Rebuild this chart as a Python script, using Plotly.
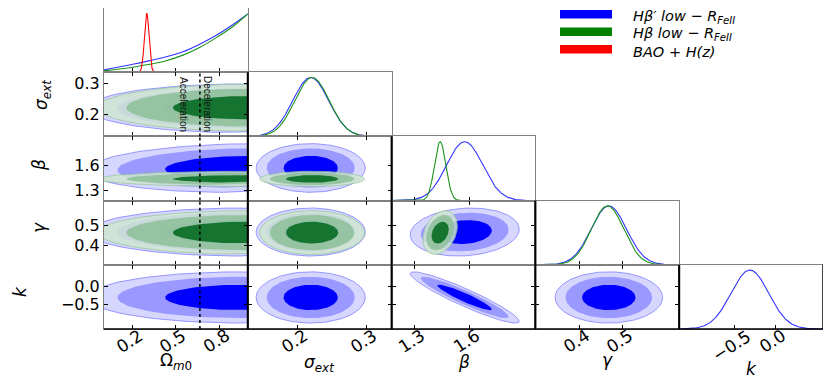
import numpy as np
import plotly.graph_objects as go
from plotly.subplots import make_subplots

# parameters of the triangle plot (Omega_m0, sigma_ext, beta, gamma, k)
axis_titles = ["Ω<sub><i>m</i>0</sub>", "<i>σ<sub>ext</sub></i>", "<i>β</i>", "<i>γ</i>", "<i>k</i>"]
axis_lo = [0.0, 0.128, 1.175, 0.298, -1.17]
axis_hi = [1.0, 0.336, 1.96, 0.631, 0.58]
tick_vals = [[0.2, 0.5, 0.8], [0.2, 0.3], [1.3, 1.6], [0.4, 0.5], [-0.5, 0.0]]
tick_text = [["0.2", "0.5", "0.8"], ["0.2", "0.3"], ["1.3", "1.6"], ["0.4", "0.5"], ["−0.5", "0.0"]]

# H-beta' low - R_FeII  (blue)
hbp_mean = [0.958, 0.219, 1.574, 0.468, -0.31]
hbp_sd = [0.353, 0.026, 0.098, 0.041, 0.23]
hbp_corr = [
    [1.0, 0.0, 0.1, 0.0, 0.0],
    [0.0, 1.0, 0.0, 0.0, 0.0],
    [0.1, 0.0, 1.0, 0.12, -0.93],
    [0.0, 0.0, 0.12, 1.0, 0.0],
    [0.0, 0.0, -0.93, 0.0, 1.0],
]
# H-beta low - R_FeII  (green), no k
hb_mean = [1.0, 0.221, 1.44, 0.465]
hb_sd = [0.345, 0.025, 0.031, 0.0375]
hb_corr = [
    [1.0, 0.0, 0.0, 0.0],
    [0.0, 1.0, 0.0, 0.0],
    [0.0, 0.0, 1.0, 0.3],
    [0.0, 0.0, 0.3, 1.0],
]
# BAO + H(z) (red), Omega_m0 only
bao_mean = 0.297
bao_sd = 0.016

# marginal of Omega_m0 (not gaussian)
omega_grid = [0.0, 0.2, 0.317, 0.433, 0.549, 0.665, 0.781, 0.897, 1.0]
hbp_omega_pdf = [0.039, 0.134, 0.196, 0.263, 0.347, 0.475, 0.626, 0.81, 0.99]
hb_omega_pdf = [0.022, 0.084, 0.134, 0.196, 0.29, 0.42, 0.587, 0.777, 0.99]

contour_levels = [0.68, 0.95, 0.99]
omega_transition = 0.667

blue_fills = ["#d6d6ff", "#9999ff", "#0000ff"]
green_fills = ["#cfe5d3", "#8dbf98", "#00661d"]

N = 5
specs = [[{} if c <= r else None for c in range(N)] for r in range(N)]
fig = make_subplots(rows=N, cols=N, specs=specs, horizontal_spacing=0, vertical_spacing=0)


def refs(r, c):
    sp = fig.get_subplot(r + 1, c + 1)
    return sp.xaxis, sp.yaxis, sp.xaxis.plotly_name.replace("axis", ""), sp.yaxis.plotly_name.replace("axis", "")


def ellipse(mx, my, sx, sy, rho, rad):
    t = np.linspace(0, 2 * np.pi, 120)
    u, v = np.cos(t), np.sin(t)
    x = mx + rad * sx * u
    y = my + rad * sy * (rho * u + np.sqrt(1 - rho ** 2) * v)
    return x, y


def add_contours(r, c, mean, sd, corr, fills, line_col, opacity):
    for k, p in enumerate(reversed(contour_levels)):
        rad = np.sqrt(-2 * np.log(1 - p))
        x, y = ellipse(mean[c], mean[r], sd[c], sd[r], corr[r][c], rad)
        fig.add_trace(go.Scatter(
            x=x, y=y, mode="lines", fill="toself", fillcolor=fills[k],
            opacity=opacity,
            line=dict(color=line_col if k == 0 else fills[k], width=0.8 if k == 0 else 0),
            hoverinfo="skip", showlegend=False), row=r + 1, col=c + 1)


for r in range(N):
    for c in range(r + 1):
        if r == c:
            if c == 0:
                fig.add_trace(go.Scatter(x=omega_grid, y=hbp_omega_pdf, mode="lines",
                                         line=dict(color="#3333ff", width=1.1, shape="spline"),
                                         showlegend=False), row=1, col=1)
                fig.add_trace(go.Scatter(x=omega_grid, y=hb_omega_pdf, mode="lines",
                                         line=dict(color="#1a961a", width=1.1, shape="spline"),
                                         showlegend=False), row=1, col=1)
                xs = np.linspace(axis_lo[0], axis_hi[0], 400)
                fig.add_trace(go.Scatter(x=xs, y=np.exp(-0.5 * ((xs - bao_mean) / bao_sd) ** 2),
                                         mode="lines", line=dict(color="#ff0000", width=1.1),
                                         showlegend=False), row=1, col=1)
            else:
                xs = np.linspace(axis_lo[c], axis_hi[c], 300)
                fig.add_trace(go.Scatter(x=xs, y=np.exp(-0.5 * ((xs - hbp_mean[c]) / hbp_sd[c]) ** 2),
                                         mode="lines", line=dict(color="#3333ff", width=1.1),
                                         showlegend=False), row=r + 1, col=c + 1)
                if c < len(hb_mean):
                    fig.add_trace(go.Scatter(x=xs, y=np.exp(-0.5 * ((xs - hb_mean[c]) / hb_sd[c]) ** 2),
                                             mode="lines", line=dict(color="#1a961a", width=1.1),
                                             showlegend=False), row=r + 1, col=c + 1)
        else:
            add_contours(r, c, hbp_mean, hbp_sd, hbp_corr, blue_fills, "#8080ff", 1.0)
            if r < len(hb_mean):
                add_contours(r, c, hb_mean, hb_sd, hb_corr, green_fills, "#90c890", 0.85)

tick_font = dict(size=16, family="DejaVu Sans", color="black")
annotations = []

# the page body adds an 8px offset; positions below are in window pixels
OFF = 8
AREA_L, AREA_R, AREA_T, AREA_B = 104, 823, OFF, 329


def PX(x):
    return (x - AREA_L) / (AREA_R - AREA_L)


def PY(y):
    return (AREA_B - y) / (AREA_B - AREA_T)


def label(x, y, text, size, angle=0, xref="paper", xanchor="center", family="DejaVu Sans", color="black"):
    return dict(xref=xref, yref="paper", x=x, y=y, text=text, textangle=angle, showarrow=False,
                xanchor=xanchor, yanchor="middle", font=dict(size=size, family=family, color=color))


# axes
for r in range(N):
    for c in range(r + 1):
        xa, ya, xr, yr = refs(r, c)
        xa.update(
            range=[axis_lo[c], axis_hi[c]], tickvals=tick_vals[c], ticktext=tick_text[c],
            ticks="inside", ticklen=4, tickcolor="black", showline=True, linecolor="#808080",
            mirror="ticks" if r != c else True, showgrid=False, zeroline=False,
            showticklabels=False, automargin=False)
        if r == c:
            ya.update(range=[0, 1.09], showticklabels=False, ticks="",
                      showline=True, linecolor="#808080", mirror=True,
                      showgrid=False, zeroline=False, automargin=False)
        else:
            ya.update(
                range=[axis_lo[r], axis_hi[r]], tickvals=tick_vals[r], ticktext=tick_text[r],
                ticks="inside", ticklen=4, tickcolor="black", showline=True, linecolor="#808080",
                mirror="ticks", showgrid=False, zeroline=False, showticklabels=(c == 0),
                tickfont=tick_font, automargin=False)
        # rotated tick labels of the bottom row, centred under the ticks
        if r == N - 1:
            for v, t in zip(tick_vals[c], tick_text[c]):
                a = label(v, PY(346 if len(t) > 3 else 341), t, 17, angle=-33, xref=xr)
                a["xshift"] = -3
                annotations.append(a)

shapes = []
# acceleration / deceleration boundary
for r in range(1, N):
    _, _, xr, yr = refs(r, 0)
    shapes.append(dict(type="line", xref=xr, yref=f"{yr} domain",
                       x0=omega_transition, x1=omega_transition, y0=0, y1=1,
                       line=dict(color="black", width=1.5, dash="dot")))
# darker spines
for c in range(1, N):
    shapes.append(dict(type="line", xref="paper", yref="paper", x0=c / N, x1=c / N,
                       y0=0, y1=1 - c / N, line=dict(color="black", width=2)))
shapes.append(dict(type="line", xref="paper", yref="paper", x0=0, x1=1, y0=0, y1=0,
                   line=dict(color="black", width=1.5)))
shapes.append(dict(type="line", xref="paper", yref="paper", x0=1, x1=1, y0=0, y1=0.2,
                   line=dict(color="black", width=1.5)))

# legend
legend_labels = ["<i>Hβ′ low − R<sub>FeII</sub></i>", "<i>Hβ low − R<sub>FeII</sub></i>", "<i>BAO + H(z)</i>"]
legend_colors = ["#0000ff", "#008000", "#ff0000"]
for k, (lab, col) in enumerate(zip(legend_labels, legend_colors)):
    y0 = 10 + k * 17.5
    shapes.append(dict(type="rect", xref="paper", yref="paper", x0=PX(560), x1=PX(612),
                       y0=PY(y0 + 8.5), y1=PY(y0), fillcolor=col, line=dict(width=0)))
    annotations.append(label(PX(631), PY(y0 + 7), lab, 14.5, xanchor="left"))

annotations.append(label(PX(184), PY(104), "Acceleration", 10, angle=90,
                         family="Liberation Sans", color="#111111"))
annotations.append(label(PX(208), PY(104), "Deceleration", 10, angle=90,
                         family="Liberation Sans", color="#111111"))

# axis titles
x_title_y = [362, 363, 362, 360, 369]
for c in range(N):
    annotations.append(label((c + 0.5) / N, PY(x_title_y[c]), axis_titles[c], 17))
y_title_x = [None, 42, 39, 39, 20]
y_title_y = [None, 95, 165, 228, 292]
for r in range(1, N):
    annotations.append(label(PX(y_title_x[r]), PY(y_title_y[r]), axis_titles[r], 17, angle=-90))

fig.update_layout(width=831 - OFF, height=382 - OFF,
                  margin=dict(l=AREA_L - OFF, r=831 - AREA_R, t=AREA_T - OFF, b=382 - AREA_B),
                  paper_bgcolor="white", plot_bgcolor="white", showlegend=False,
                  shapes=shapes, annotations=annotations, hovermode=False,
                  font=dict(family="DejaVu Sans", size=15, color="black"))

fig.write_html("out.html")
